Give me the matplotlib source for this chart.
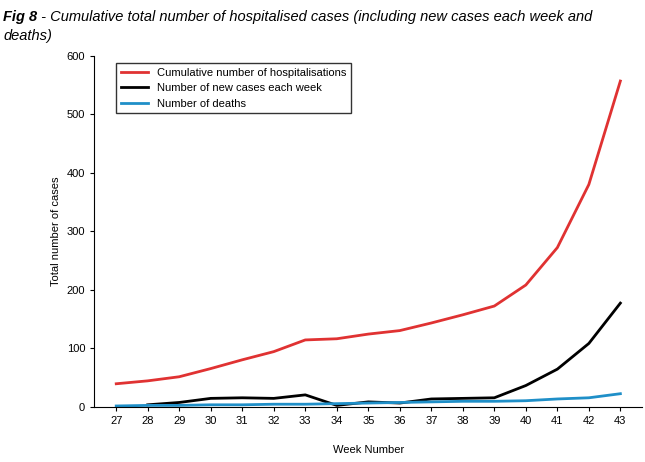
import matplotlib.pyplot as plt

plt.rcParams['font.family'] = ['Liberation Sans', 'DejaVu Sans']

weeks = list(range(27, 44))
hospitalisations = [39, 44, 51, 65, 80, 94, 114, 116, 124, 130, 143, 157, 172, 208, 272, 380, 557]
new_cases = [None, 3, 7, 14, 15, 14, 20, 2, 8, 6, 13, 14, 15, 36, 64, 108, 177]
deaths = [1, 2, 2, 3, 3, 4, 4, 5, 6, 7, 8, 9, 9, 10, 13, 15, 22]

fig = plt.figure(figsize=(6.45, 4.62), dpi=100)
ax = fig.add_axes([0.146, 0.12, 0.85, 0.759])

ax.plot(weeks, hospitalisations, color='#e03232', lw=2, label='Cumulative number of hospitalisations')
ax.plot(weeks[1:], new_cases[1:], color='black', lw=2, label='Number of new cases each week')
ax.plot(weeks, deaths, color='#1f8fc8', lw=2, label='Number of deaths')

ax.set_xlim(26.3, 43.7)
ax.set_ylim(0, 600)
ax.set_xticks(weeks)
ax.set_yticks(range(0, 601, 100))
ax.tick_params(labelsize=8, length=3)
for s in ['top', 'right']:
    ax.spines[s].set_visible(False)
ax.set_xlabel('Week Number', fontsize=8, labelpad=14)
ax.set_ylabel('Total number of cases', fontsize=8)
ax.legend(loc='upper left', bbox_to_anchor=(0.03, 0.995), fontsize=8, frameon=True,
          fancybox=False, edgecolor='black', handlelength=2.5)

fig.text(0.005, 0.978, 'Fig 8', fontsize=10.5, style='italic', weight='bold', va='top')
fig.text(0.058, 0.978, ' - Cumulative total number of hospitalised cases (including new cases each week and',
         fontsize=10.5, style='italic', va='top')
fig.text(0.005, 0.938, 'deaths)', fontsize=10.5, style='italic', va='top')

fig.savefig('out.png')
